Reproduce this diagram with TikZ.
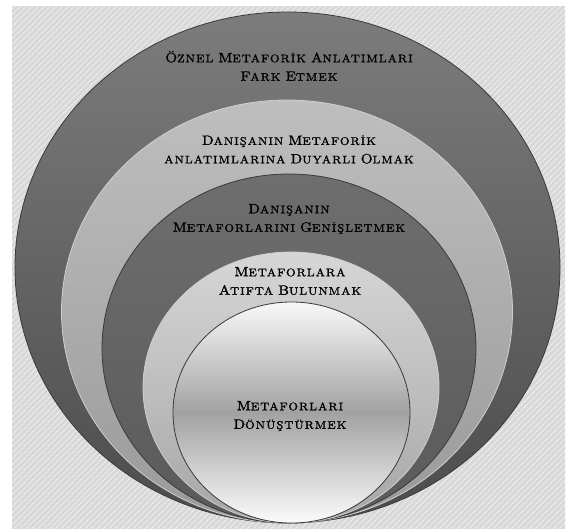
\documentclass[tikz,border=0pt]{standalone}
\usepackage{fontspec}
\newfontfamily\tfont{lmroman10-regular.otf}[FakeStretch=1.12,LetterSpace=10,FakeBold=1.6]
\usetikzlibrary{patterns.meta}
\definecolor{bgin}{HTML}{F2F2F2}
\definecolor{bgout}{HTML}{D8D8D8}
\definecolor{rAt}{HTML}{7C7C7C}\definecolor{rAb}{HTML}{4C4C4C}
\definecolor{rBt}{HTML}{BEBEBE}\definecolor{rBb}{HTML}{9A9A9A}
\definecolor{rCt}{HTML}{6E6E6E}\definecolor{rCb}{HTML}{5A5A5A}
\definecolor{rDt}{HTML}{D6D6D6}\definecolor{rDb}{HTML}{A6A6A6}
\definecolor{rEt}{HTML}{F8F8F8}\definecolor{rEm}{HTML}{A2A2A2}\definecolor{rEb}{HTML}{FBFBFB}
\definecolor{darkedge}{HTML}{3A3A3A}
\definecolor{lightedge}{HTML}{CFCFCF}
\newcommand\bigc[1]{{\fontsize{13.5}{18.5}\selectfont #1}}
\newcommand\smc[1]{{\fontsize{11}{18.5}\selectfont #1}}
\newcommand\W[2]{\bigc{#1}\smc{#2}}
\tikzset{
  lbl/.style={align=center, text=black, inner sep=0pt, font=\tfont\fontsize{11}{18.5}\selectfont},
  ringdark/.style={draw=darkedge, line width=0.8pt},
  ringlight/.style={draw=lightedge, line width=0.8pt},
}
\begin{document}
\begin{tikzpicture}[x=1pt,y=-1pt]
\useasboundingbox (0,0) rectangle (572,528);
\fill[white] (0,0) rectangle (572,528);
% striped background
\fill[inner color=bgin, outer color=bgout] (12,6) rectangle (565,528);
\fill[pattern={Lines[angle=45,distance=4pt,line width=1.1pt]}, pattern color=white, opacity=0.6] (12,6) rectangle (565,528);
% rings
\path[ringdark, top color=rAt, bottom color=rAb] (287.5,267.5) ellipse [x radius=272.5pt, y radius=255.5pt];
\path[ringlight, top color=rBt, bottom color=rBb] (287,311.5) ellipse [x radius=225.5pt, y radius=211.5pt];
\path[ringdark, top color=rCt, bottom color=rCb] (289,348.5) ellipse [x radius=187pt, y radius=174.5pt];
\path[ringlight, top color=rDt, bottom color=rDb] (291,387.5) ellipse [x radius=148pt, y radius=135.5pt];
\path[ringdark, top color=rEt, bottom color=rEb, middle color=rEm] (291.5,412.5) ellipse [x radius=118.5pt, y radius=110.5pt];
% labels
\node[lbl] (t1) at (289,66) {\W{Ö}{ZNEL} \W{M}{ETAFORİK} \W{A}{NLATIMLARI}\\ \W{F}{ARK} \W{E}{TMEK}};
\node[lbl] (t2) at (289,149.5) {\W{D}{ANIŞANIN} \W{M}{ETAFORİK}\\ \smc{ANLATIMLARINA} \W{D}{UYARLI} \W{O}{LMAK}};
\node[lbl] (t3) at (289,219) {\W{D}{ANIŞANIN}\\ \W{M}{ETAFORLARINI} \W{G}{ENİŞLETMEK}};
\node[lbl] (t4) at (290,281) {\W{M}{ETAFORLARA}\\ \W{A}{TIFTA} \W{B}{ULUNMAK}};
\node[lbl] (t5) at (290,416) {\W{M}{ETAFORLARI}\\ \W{D}{ÖNÜŞTÜRMEK}};
\end{tikzpicture}
\end{document}
